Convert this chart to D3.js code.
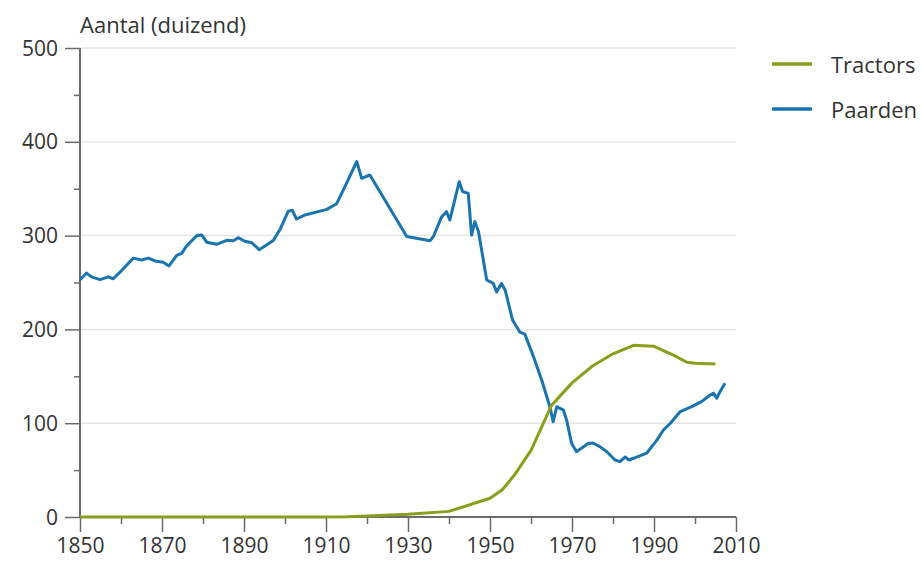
<!DOCTYPE html>
<html><head><meta charset="utf-8">
<script src="https://cdn.jsdelivr.net/npm/d3@7"></script>
<style>body{margin:0;background:#fff}svg{display:block}text{font-family:"Open Sans",sans-serif;fill:#333}</style>
</head><body><div id="chart"></div>
<script>
const xTicks = [1850,1870,1890,1910,1930,1950,1970,1990,2010];
const yTicks = [0,100,200,300,400,500];
const seriesNames = ["Tractors","Paarden"];
const seriesColors = ["#8c9d1b","#1a74ae"];
const tractorYears = [1850,1860,1870,1880,1890,1900,1910,1915,1920,1930,1940,1950,1953,1956,1960,1965,1970,1975,1980,1985,1990,1995,1998,2000,2005];
const tractorValues = [0,0,0,0,0,0,0,0.2,1,3,6,20,29,45,71,119,143,161,174,183,182,172,165,164,163];
const horseYears = [1850,1851.6,1852.8,1854.9,1856.9,1858.1,1860.2,1863,1865,1866.7,1868.3,1870.3,1871.7,1873.6,1874.8,1876,1878.5,1879.7,1880.9,1883.3,1885.8,1887.4,1888.6,1890.2,1891.9,1893.7,1895.5,1897.2,1898.8,1900.8,1901.8,1902.8,1904.9,1910.2,1912.6,1914.6,1917.5,1918.7,1920.7,1929.7,1935.4,1936.2,1938.2,1939.4,1940.2,1942.5,1943.3,1944.7,1945.5,1946.3,1947.2,1949.2,1950.8,1951.6,1952.8,1953.7,1955.5,1957.3,1958.5,1960.6,1962.6,1964.6,1965.4,1966.3,1967.9,1968.7,1969.9,1971.1,1974,1975.2,1976.8,1978.5,1980.5,1981.7,1983,1983.8,1985,1988.2,1990.7,1992.3,1994,1996.3,1999.2,2001.6,2003.7,2004.5,2005.3,2006.1,2007.3];
const horseValues = [253,260,256,253,256,254,263,276,274,276,273,271.5,267.6,279,281,289,300,300.6,293,290.7,295,294.6,297.8,294,292.4,285,290,295,306.7,326,327,317.7,322,328,334,352,379,361,364.6,299,294.6,299,320,325.5,316.6,357.5,347,345,300.6,315,304,252.7,249,240,249,242,210,197,195,171,146,117.6,101.6,117.6,114,103,78.6,69.6,78.6,78.6,75,69.6,60.8,59,64,60.8,62.6,68,82,92.7,100,112,117.6,123,130,132,126.6,133.6,142.5];

const W=922,H=561;
const svg=d3.select("#chart").append("svg").attr("width",W).attr("height",H);
const x=d3.scaleLinear().domain([1850,2010]).range([80,736]);
const y=d3.scaleLinear().domain([0,500]).range([517,48]);
const axisColor="#6b6b6b";

// gridlines
svg.append("g").selectAll("line").data(yTicks.filter(d=>d>0)).join("line")
  .attr("x1",81).attr("x2",736).attr("y1",d=>y(d)).attr("y2",d=>y(d))
  .attr("stroke","#e6e6e6").attr("stroke-width",1.5);

// y axis
const yAx=svg.append("g").attr("transform","translate(80,0)")
  .call(d3.axisLeft(y).tickValues(yTicks).tickSize(15).tickPadding(7).tickFormat(d3.format("d")));
yAx.select(".domain").attr("stroke",axisColor).attr("stroke-width",2).attr("d","M0,"+y(0)+"V"+y(500));
yAx.selectAll(".tick line").attr("stroke",axisColor).attr("stroke-width",1.5);
yAx.selectAll("text").style("font-size","21px").style("fill","#333").attr("dy","0.34em");
svg.append("g").attr("transform","translate(80,0)")
  .call(d3.axisLeft(y).tickValues(d3.range(50,500,100)).tickSize(6).tickFormat(""))
  .call(g=>g.select(".domain").remove())
  .selectAll("line").attr("stroke",axisColor).attr("stroke-width",1.5);

// x axis: minor ticks
svg.append("g").attr("transform","translate(0,"+y(0)+")")
  .call(d3.axisBottom(x).tickValues(d3.range(1860,2011,20)).tickSize(7).tickFormat(""))
  .call(g=>g.select(".domain").remove())
  .selectAll("line").attr("stroke",axisColor).attr("stroke-width",1.5);
// x axis: labelled ticks
const xAx=svg.append("g").attr("transform","translate(0,"+y(0)+")")
  .call(d3.axisBottom(x).tickValues(xTicks).tickSize(15).tickPadding(6).tickFormat(d3.format("d")));
xAx.select(".domain").attr("stroke",axisColor).attr("stroke-width",2).attr("d","M80,0H736");
xAx.selectAll(".tick line").attr("stroke",axisColor).attr("stroke-width",1.5);
xAx.selectAll("text").style("font-size","21px").style("fill","#333");

// title
svg.append("text").attr("x",80).attr("y",33).style("font-size","22px").text("Aantal (duizend)");

const line=d3.line().x(d=>x(d[0])).y(d=>y(d[1]));
const tData=tractorYears.map((t,i)=>[t,tractorValues[i]]);
const hData=horseYears.map((t,i)=>[t,horseValues[i]]);
svg.append("path").datum(hData).attr("d",line).attr("fill","none").attr("stroke",seriesColors[1]).attr("stroke-width",3).attr("stroke-linejoin","round");
svg.append("path").datum(tData).attr("d",line).attr("fill","none").attr("stroke",seriesColors[0]).attr("stroke-width",3).attr("stroke-linejoin","round");

// legend
const lg=svg.append("g");
seriesNames.forEach((n,i)=>{
  const yy=64+i*45;
  lg.append("line").attr("x1",772).attr("x2",812).attr("y1",yy).attr("y2",yy).attr("stroke",seriesColors[i]).attr("stroke-width",3.5);
  lg.append("text").attr("x",831).attr("y",yy+9).style("font-size","22px").text(n);
});
</script></body></html>
